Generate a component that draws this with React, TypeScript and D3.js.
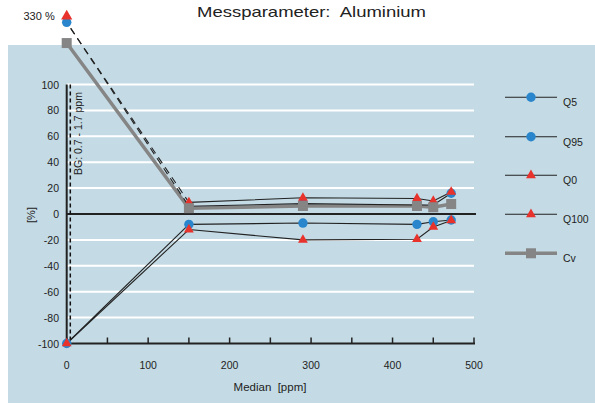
import React from 'react'
import * as d3 from 'd3'

const medians = [0, 150, 290, 430, 450, 472]
const q5 = [-100, -8, -7, -8, -6, -4.6]
const q95 = [330, 6, 8, 7, 7, 16]
const q0 = [-100, -12, -20, -19.5, -10, -5]
const q100 = [330, 9, 12.5, 12, 10, 17]
const cv = [132, 4.5, 6.2, 6.2, 5.2, 7.7]

const yTicks = [-100, -80, -60, -40, -20, 0, 20, 40, 60, 80, 100]
const xTicks = [0, 100, 200, 300, 400, 500]
const xMinor = [0, 50, 100, 150, 200, 250, 300, 350, 400, 450, 500]

const BLUE = '#2a86cc'
const RED = '#e8322c'
const GRAY = '#858585'
const LINE = '#222'
const CLIP_MAX = 148

type Series = { name: string; values: number[]; kind: 'circle' | 'triangle' | 'square' }

const series: Series[] = [
  { name: 'Q5', values: q5, kind: 'circle' },
  { name: 'Q95', values: q95, kind: 'circle' },
  { name: 'Q0', values: q0, kind: 'triangle' },
  { name: 'Q100', values: q100, kind: 'triangle' },
  { name: 'Cv', values: cv, kind: 'square' },
]

function Marker({ kind, x, y, size = 42 }: { kind: string; x: number; y: number; size?: number }) {
  if (kind === 'circle') return <circle cx={x} cy={y} r={4.7} fill={BLUE} />
  if (kind === 'triangle') {
    const p = d3.symbol(d3.symbolTriangle, size)()
    return <path d={p || ''} transform={`translate(${x},${y})`} fill={RED} />
  }
  return <rect x={x - 5} y={y - 5} width={10} height={10} fill={GRAY} />
}

export default function App() {
  const W = 595
  const H = 405
  const x = d3.scaleLinear().domain([0, 500]).range([66.7, 474])
  const y = d3.scaleLinear().domain([-100, 100]).range([343.5, 84.5])
  const yc = (v: number) => y(Math.min(v, CLIP_MAX))
  const font = 'Liberation Sans, Arial, sans-serif'

  const line = d3.line<number>().x((_, i) => x(medians[i])).y((d) => yc(d))

  const legendY = [97.3, 136.7, 175.3, 214.3, 253.3]

  return (
    <svg width={W} height={H} style={{ position: 'absolute', left: 0, top: 0, display: 'block' }} fontFamily={font}>
      <rect x={0} y={0} width={W} height={H} fill="#fff" />
      <rect x={8} y={45} width={587} height={358} fill="#c4dbe5" />
      <text x={197} y={17} fontSize={14.5} fill="#222" textLength={229} lengthAdjust="spacingAndGlyphs" style={{ whiteSpace: 'pre' }}>Messparameter:  Aluminium</text>

      {/* grid */}
      {yTicks.filter((t) => t !== 0 && t !== -100).map((t) => (
        <line key={t} x1={x(0)} x2={x(500)} y1={y(t)} y2={y(t)} stroke="#fff" strokeWidth={2} />
      ))}
      <line x1={x(0)} x2={476} y1={y(0)} y2={y(0)} stroke="#222" strokeWidth={2} />

      {/* BG dashed line */}
      <line x1={70.3} x2={70.3} y1={y(100)} y2={y(-100)} stroke="#111" strokeWidth={1.5} strokeDasharray="4,3" />
      <text transform={`translate(82,175) rotate(-90)`} fontSize={10.5} fill="#222">BG: 0.7 - 1.7 ppm</text>

      {/* axes */}
      <line x1={x(0)} x2={x(0)} y1={y(100)} y2={y(-100) + 1} stroke="#222" strokeWidth={2} />
      <line x1={x(0) - 1} x2={x(500) + 1} y1={y(-100)} y2={y(-100)} stroke="#222" strokeWidth={2} />
      {xMinor.map((t) => (
        <line key={t} x1={x(t)} x2={x(t)} y1={y(-100)} y2={y(-100) - 6} stroke="#222" strokeWidth={1.5} />
      ))}
      {yTicks.map((t) => (
        <text key={t} x={59} y={y(t) + 4} textAnchor="end" fontSize={10.5} fill="#222">{t}</text>
      ))}
      {xTicks.map((t) => (
        <text key={t} x={x(t)} y={369} textAnchor="middle" fontSize={10.5} fill="#222">{t}</text>
      ))}
      <text x={270} y={391} textAnchor="middle" fontSize={11.5} fill="#222" style={{ whiteSpace: 'pre' }}>Median  [ppm]</text>
      <text transform={`translate(35,215) rotate(-90)`} textAnchor="middle" fontSize={11} fill="#222">[%]</text>

      {/* lines */}
      <path d={line(cv) || ''} fill="none" stroke={GRAY} strokeWidth={3.5} />
      {series.filter((s) => s.kind !== 'square').map((s) => {
        const clipped = s.values[0] > CLIP_MAX
        const rest = d3.line<number>().x((_, i) => x(medians[i + 1])).y((d) => yc(d))(s.values.slice(1)) || ''
        return (
          <g key={s.name}>
            <path d={rest} fill="none" stroke={LINE} strokeWidth={1.1} />
            <line
              x1={x(medians[0]) + (clipped ? 4 : 0)} y1={yc(s.values[0]) + (clipped ? 6 : 0)} x2={x(medians[1])} y2={yc(s.values[1])}
              stroke={LINE} strokeWidth={1.1} strokeDasharray={clipped ? '7,5' : undefined}
            />
          </g>
        )
      })}

      {/* markers */}
      {['circle', 'triangle', 'square'].map((k) =>
        series.filter((s) => s.kind === k).map((s) =>
          s.values.map((v, i) => (
            <Marker
              key={`${s.name}-${i}`}
              kind={k}
              x={x(medians[i])}
              y={yc(v) - (k === 'triangle' && v > CLIP_MAX ? 6 : 0)}
              size={k === 'triangle' && v > CLIP_MAX ? 55 : 42}
            />
          ))
        )
      )}
      <text x={23.5} y={20} fontSize={11} fill="#222">330 %</text>

      {/* legend */}
      {series.map((s, i) => (
        <g key={s.name}>
          <line x1={505} x2={557} y1={legendY[i]} y2={legendY[i]} stroke={s.kind === 'square' ? GRAY : LINE} strokeWidth={s.kind === 'square' ? 3.5 : 1.1} />
          <Marker kind={s.kind} x={531} y={legendY[i]} />
          <text x={563} y={legendY[i] + 9} fontSize={10.5} fill="#222">{s.name}</text>
        </g>
      ))}
    </svg>
  )
}
